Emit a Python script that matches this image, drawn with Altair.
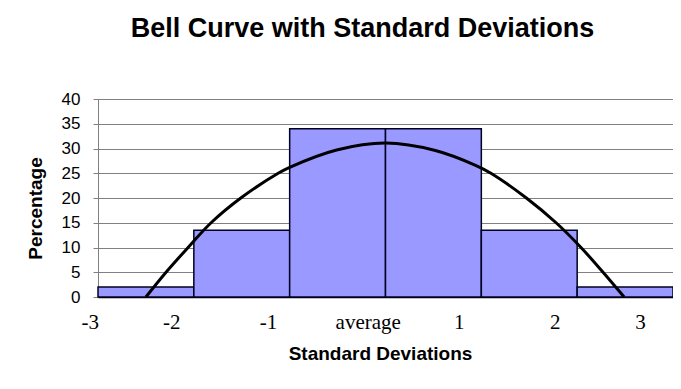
import altair as alt
import pandas as pd

# ---- data ----
bar_left = [-3, -2, -1, 0, 1, 2]
bar_right = [-2, -1, 0, 1, 2, 3]
bar_pct = [2, 13.5, 34, 34, 13.5, 2]

curve_sd = [-2.50, -2.29, -2.06, -1.82, -1.51, -1.12, -1.00, -0.51, 0.0,
            0.52, 0.94, 1.10, 1.47, 1.78, 2.04, 2.27, 2.49]
curve_pct = [0, 5, 10, 15, 20, 25, 26.2, 29.7, 31.1,
             29.6, 26.6, 25, 20, 15, 10, 5, 0]

tick_sd = [-3.08, -2.23, -1.22, -0.18, 0.77, 1.77, 2.66]
tick_labels = ["-3", "-2", "-1", "average", "1", "2", "3"]

y_ticks = [0, 5, 10, 15, 20, 25, 30, 35, 40]

bars_df = pd.DataFrame({"left": bar_left, "right": bar_right, "pct": bar_pct,
                        "base": [0] * len(bar_pct)})
curve_df = pd.DataFrame({"sd": curve_sd, "pct": curve_pct})
ticks_df = pd.DataFrame({"sd": tick_sd, "label": tick_labels})

xs = alt.Scale(domain=[-3, 3], nice=False, zero=False)
ys = alt.Scale(domain=[0, 40], nice=False)

x_axis = alt.Axis(
    labels=False, ticks=False, grid=False,
    domainColor="#000000", domainWidth=1.5,
    title="Standard Deviations", titleFont="Liberation Sans", titleFontSize=19,
    titleFontWeight="bold", titleColor="#000000",
    titleX=282, titleY=56, titleAlign="center", titleBaseline="middle",
)
y_axis = alt.Axis(
    values=y_ticks, tickCount=9, labelOverlap=False,
    grid=True, gridColor="#808080", gridWidth=1,
    domainColor="#808080", tickColor="#808080", tickSize=5,
    labelFont="Liberation Sans", labelFontSize=17, labelColor="#000000",
    labelPadding=13,
    title="Percentage", titleFont="Liberation Sans", titleFontSize=19,
    titleFontWeight="bold", titleColor="#000000",
    titleX=-63, titleY=109, titleAngle=270, titleAlign="center",
    titleBaseline="middle",
)

bars = alt.Chart(bars_df).mark_rect(
    fill="#9999FF", stroke="#000022", strokeWidth=1.5
).encode(
    x=alt.X("left:Q", scale=xs, axis=x_axis),
    x2="right:Q",
    y=alt.Y("pct:Q", scale=ys, axis=y_axis),
    y2="base:Q",
)

curve = alt.Chart(curve_df).mark_line(
    color="#000000", strokeWidth=3, interpolate="catmull-rom"
).encode(
    x=alt.X("sd:Q", scale=xs),
    y=alt.Y("pct:Q", scale=ys),
)

xlabels = alt.Chart(ticks_df).mark_text(
    font="Liberation Serif", fontSize=21, color="#000000",
    align="center", baseline="middle"
).encode(
    x=alt.X("sd:Q", scale=xs),
    y=alt.value(224),
    text="label:N",
)

chart = alt.layer(bars, curve, xlabels).properties(
    width=575, height=198,
    title=alt.Title(
        "Bell Curve with Standard Deviations",
        font="Liberation Sans", fontSize=27, fontWeight="bold",
        color="#000000", anchor="middle", dx=-23, offset=47,
    ),
    autosize=alt.AutoSizeParams(type="none"),
    padding={"left": 90, "top": 91, "right": 0, "bottom": 80},
).configure_view(stroke="#808080", strokeWidth=1)

chart.save("out.html", embed_options={"renderer": "svg", "actions": False})
